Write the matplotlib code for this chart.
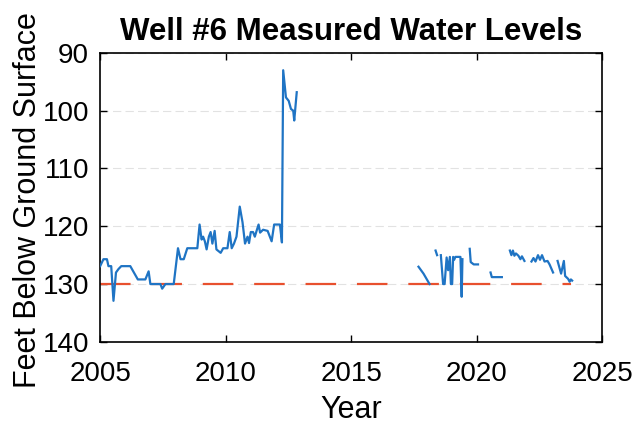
import numpy as np
import matplotlib
matplotlib.use("Agg")
import matplotlib.pyplot as plt

plt.rcParams['font.family'] = ['Liberation Sans', 'DejaVu Sans']
plt.rcParams['lines.scale_dashes'] = False

# ---- data ----
years_early = [2005.00, 2005.13, 2005.27, 2005.33, 2005.44, 2005.53, 2005.63, 2005.73, 2005.84,
               2006.20, 2006.50, 2006.80, 2006.93, 2007.00, 2007.40, 2007.47, 2007.60, 2007.93,
               2008.10, 2008.20, 2008.33, 2008.47, 2008.87, 2008.96, 2009.04, 2009.10, 2009.17,
               2009.24, 2009.33, 2009.40, 2009.47, 2009.56, 2009.63, 2009.80, 2009.90, 2010.07,
               2010.16, 2010.24, 2010.33, 2010.43, 2010.56, 2010.67, 2010.77, 2010.87, 2010.93,
               2011.00, 2011.09, 2011.16, 2011.23, 2011.31, 2011.37, 2011.49, 2011.67, 2011.83,
               2011.93, 2012.16, 2012.24, 2012.29, 2012.40, 2012.51, 2012.60, 2012.69, 2012.73,
               2012.83]
levels_early = [126.9, 125.7, 125.7, 126.9, 126.9, 132.9, 128.0, 127.4, 126.9,
                126.9, 129.2, 129.2, 127.8, 130.0, 130.0, 130.8, 130.0, 130.0,
                123.8, 125.7, 125.7, 123.8, 123.8, 119.7, 122.3, 121.8, 122.6,
                124.0, 121.8, 121.0, 123.0, 120.8, 124.0, 124.6, 123.8, 123.8,
                121.0, 123.8, 123.0, 121.8, 116.6, 119.3, 123.0, 121.8, 122.9,
                121.0, 121.0, 121.8, 120.8, 119.7, 121.1, 120.6, 120.8, 122.6,
                119.7, 119.7, 122.8, 93.0, 97.7, 98.3, 99.7, 100.0, 101.7,
                96.8]

# later measurements; NaN marks missing records (gaps in the line)
years_late = [2017.68, 2017.88, 2018.12, np.nan,
              2018.36, 2018.42, np.nan,
              2018.57, 2018.66, 2018.72, 2018.80, 2018.86, 2018.93, 2018.97, 2019.02, 2019.06,
              2019.10, 2019.15, 2019.35, 2019.40, 2019.43, np.nan,
              2019.72, 2019.76, 2019.88, 2020.05, np.nan,
              2020.55, 2020.60, 2021.00, np.nan,
              2021.32, 2021.38, 2021.44, 2021.50, 2021.56, 2021.66, 2021.74, 2021.80, 2021.90, np.nan,
              2022.18, 2022.26, 2022.34, 2022.44, 2022.52, 2022.60, 2022.70, 2022.82, 2022.90, 2023.04, np.nan,
              2023.22, 2023.36, 2023.47, 2023.52, 2023.64, 2023.70, 2023.75, 2023.80]
levels_late = [127.0, 128.2, 130.0, np.nan,
               124.2, 125.0, np.nan,
               125.0, 130.0, 130.0, 125.4, 127.6, 125.3, 130.0, 130.0, 125.3,
               125.8, 125.3, 125.3, 132.2, 125.7, np.nan,
               123.9, 126.2, 126.6, 126.6, np.nan,
               128.0, 128.8, 128.8, np.nan,
               124.2, 125.0, 124.2, 125.1, 124.7, 125.1, 125.7, 125.2, 126.0, np.nan,
               126.1, 125.5, 126.1, 125.0, 125.8, 125.0, 126.1, 126.0, 126.6, 128.0, np.nan,
               126.0, 128.2, 126.0, 128.6, 129.1, 129.6, 129.2, 129.4]

ref_years = [2005.0, 2023.75]
ref_level = [130.0, 130.0]

xticks = [2005, 2010, 2015, 2020, 2025]
yticks = [90, 100, 110, 120, 130, 140]

# ---- figure ----
fig = plt.figure(figsize=(6.38, 4.30), dpi=100)
ax = fig.add_axes([0.157, 0.205, 0.787, 0.672])

years = years_early + [np.nan] + years_late
levels = levels_early + [np.nan] + levels_late

ax.plot(ref_years, ref_level, color='#E8502E', lw=1.6, dashes=(22, 15), zorder=2)
ax.plot(years, levels, color='#1F74C4', lw=1.6, zorder=3)

ax.set_xlim(2005, 2025)
ax.set_ylim(140, 90)
ax.set_xticks(xticks)
ax.set_yticks(yticks)
ax.yaxis.grid(True, color='#e2e2e2', lw=0.8, ls=(0, (6, 3)))
ax.set_axisbelow(True)

ax.tick_params(direction='in', top=True, right=True, length=5, width=1.0,
               labelsize=20)
ax.tick_params(axis='x', pad=14)
ax.tick_params(axis='y', pad=8)
for s in ax.spines.values():
    s.set_linewidth(1.2)

ax.set_xlabel('Year', fontsize=22)
ax.set_ylabel('Feet Below Ground Surface', fontsize=22)
ax.xaxis.set_label_coords(0.5, -0.185)
fig.text(28 / 638, 1 - 200 / 430, 'Feet Below Ground Surface', fontsize=22,
         rotation=90, ha='center', va='center')
ax.yaxis.label.set_visible(False)
ax.set_title('Well #6 Measured Water Levels', fontsize=22.5, fontweight='bold', pad=9)

fig.savefig('out.png', dpi=100)
